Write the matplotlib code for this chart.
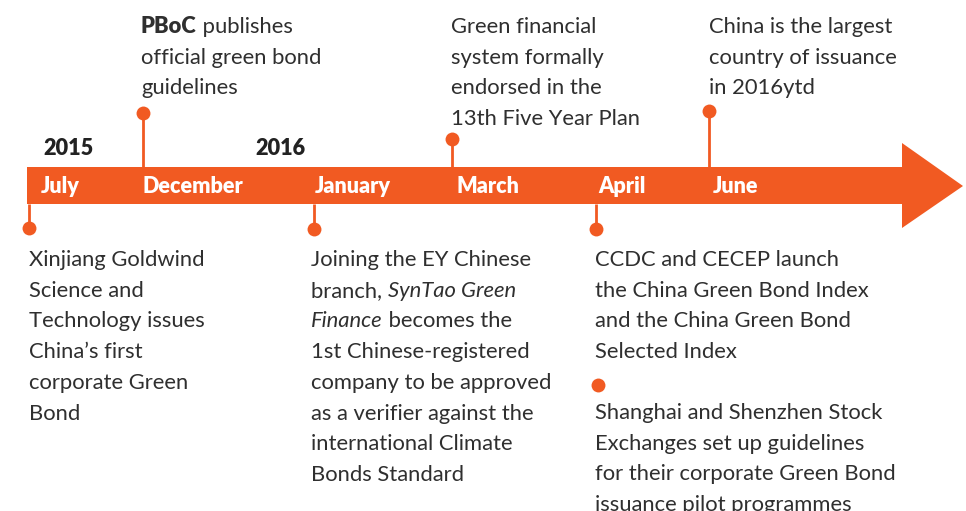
import matplotlib
matplotlib.use("Agg")
import matplotlib.pyplot as plt
from matplotlib.patches import Polygon, Rectangle

# ---- data ----
months = ["July", "December", "January", "March", "April", "June"]
years = ["2015", "2016"]
# each event: list of lines, each line a list of (text, style) segments
event_pboc = [[("PBoC", "bold"), (" publishes", "normal")],
              [("official green bond", "normal")],
              [("guidelines", "normal")]]
event_plan = [[("Green financial", "normal")],
              [("system formally", "normal")],
              [("endorsed in the", "normal")],
              [("13th Five Year Plan", "normal")]]
event_largest = [[("China is the largest", "normal")],
                 [("country of issuance", "normal")],
                 [("in 2016ytd", "normal")]]
event_goldwind = [[("Xinjiang Goldwind", "normal")],
                  [("Science and", "normal")],
                  [("Technology issues", "normal")],
                  [("China\u2019s first", "normal")],
                  [("corporate Green", "normal")],
                  [("Bond", "normal")]]
event_syntao = [[("Joining the EY Chinese", "normal")],
                [("branch, ", "normal"), ("SynTao Green", "italic")],
                [("Finance", "italic"), (" becomes the", "normal")],
                [("1st Chinese-registered", "normal")],
                [("company to be approved", "normal")],
                [("as a verifier against the", "normal")],
                [("international Climate", "normal")],
                [("Bonds Standard", "normal")]]
event_ccdc = [[("CCDC and CECEP launch", "normal")],
              [("the China Green Bond Index", "normal")],
              [("and the China Green Bond", "normal")],
              [("Selected Index", "normal")]]
event_exchanges = [[("Shanghai and Shenzhen Stock", "normal")],
                   [("Exchanges set up guidelines", "normal")],
                   [("for their corporate Green Bond", "normal")],
                   [("issuance pilot programmes", "normal")]]

# ---- layout (pixels) ----
W, H = 966, 511
ORANGE = "#F15A22"
TEXT = "#2f2f2f"
FONT = "Lato"
FS = 15.8
LS = 30.7

fig = plt.figure(figsize=(W / 100, H / 100), dpi=100)
ax = fig.add_axes([0, 0, 1, 1])
ax.set_xlim(0, W)
ax.set_ylim(H, 0)
ax.axis("off")

bar_top, bar_bot = 167, 204
ax.add_patch(Rectangle((27, bar_top), 876, bar_bot - bar_top, color=ORANGE, lw=0))
ax.add_patch(Polygon([(902, 143), (963, 186), (902, 228)], closed=True, color=ORANGE, lw=0))

month_x = [41, 142, 315, 456, 598, 713]
for m, x in zip(months, month_x):
    ax.text(x, 193, m, color="white", fontsize=15.6, fontweight="heavy",
            family=FONT, va="baseline", ha="left")

for y_, x in zip(years, [43, 255]):
    ax.text(x, 155, y_, color="#222222", fontsize=15.6, fontweight="heavy",
            family=FONT, va="baseline", ha="left")

# stems: (x, dot_y)
stems = [(29, 228), (143, 113), (314, 229), (452, 139), (596, 229), (709, 111)]
for x, dy in stems:
    y0 = bar_bot if dy > bar_bot else bar_top
    ax.plot([x, x], [y0, dy], color=ORANGE, lw=2, solid_capstyle="butt")
    ax.plot([x], [dy], "o", color=ORANGE, ms=10, mec="none")
ax.plot([598], [385], "o", color=ORANGE, ms=10, mec="none")


def block(lines, x, y_first):
    for i, line in enumerate(lines):
        y = y_first + i * LS
        prev = None
        for seg, style in line:
            kw = dict(color=TEXT, fontsize=FS, family=FONT)
            kw["fontweight"] = "heavy" if style == "bold" else "normal"
            if style == "italic":
                kw["fontstyle"] = "italic"
            if prev is None:
                prev = ax.text(x, y, seg, va="baseline", ha="left", **kw)
            else:
                prev = ax.annotate(seg, xy=(1, 0), xycoords=prev,
                                   va="bottom", ha="left", **kw)


block(event_pboc, 141, 33)
block(event_plan, 451, 33)
block(event_largest, 709, 33)
block(event_goldwind, 29, 266)
block(event_syntao, 311, 266)
block(event_ccdc, 595, 266)
block(event_exchanges, 595, 419)

fig.savefig("out.png", dpi=100)
